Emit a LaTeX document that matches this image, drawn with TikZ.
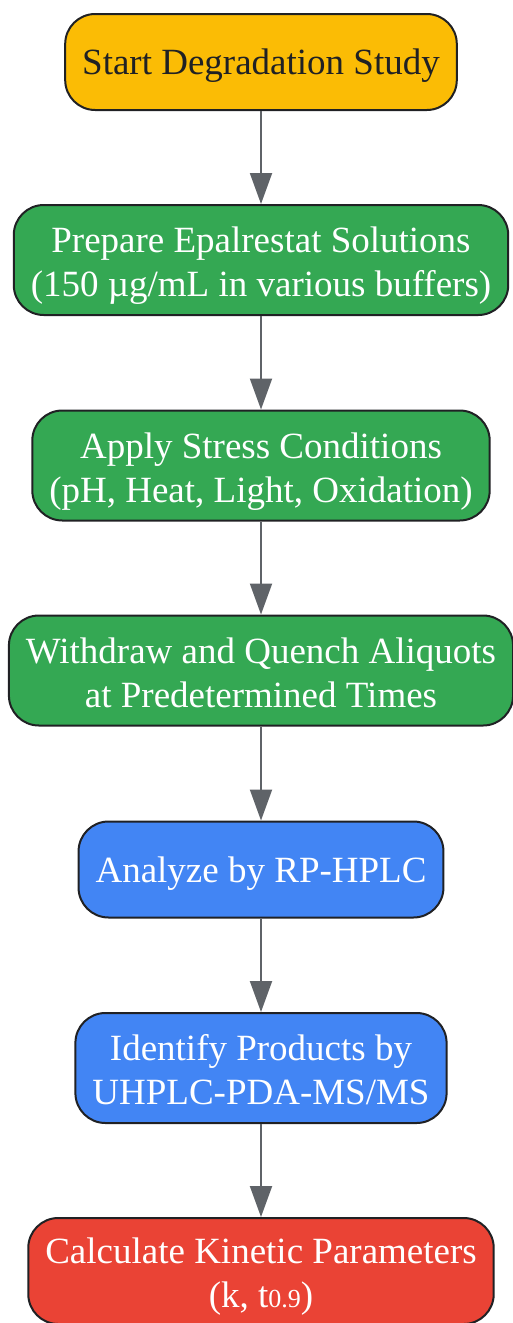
\documentclass[tikz,border=0pt]{standalone}
\usepackage{fontspec}
\setmainfont{Liberation Serif}
\usetikzlibrary{arrows.meta}
\definecolor{startyellow}{HTML}{FBBC05}
\definecolor{stepgreen}{HTML}{34A853}
\definecolor{stepblue}{HTML}{4285F4}
\definecolor{endred}{HTML}{EA4335}
\definecolor{edgegray}{HTML}{5F6368}
\definecolor{inkdark}{HTML}{202124}
% two centred lines with even struts
\newcommand{\twolines}[2]{\rule{0pt}{19pt}#1\\#2\rule[-4.5pt]{0pt}{4.5pt}}
\begin{document}
\begin{tikzpicture}[x=0.5pt,y=-0.5pt,
    box/.style={draw=inkdark,line width=1pt,rounded corners=15pt,align=center,
        font=\fontsize{18.5}{22}\selectfont,text=white,inner xsep=8.5pt,inner ysep=2pt},
    oneline/.style={box,minimum height=48pt,
        execute at begin node={\rule{0pt}{17pt}},
        execute at end node={\rule[-4.5pt]{0pt}{4.5pt}}},
    twoline/.style={box,minimum height=55pt},
    flow/.style={draw=edgegray,line width=1pt,-{Triangle[length=15.5pt,width=11pt]}}]
                \useasboundingbox (0,0) rectangle (513,1323);
                % steps of the study
                \node[oneline,fill=startyellow,text=inkdark] (start) at (261,62) {Start Degradation Study};
                \node[twoline,fill=stepgreen] (prepare) at (261,260) {\twolines{Prepare Epalrestat Solutions}{(150 µg/mL in various buffers)}};
                \node[twoline,fill=stepgreen] (stress) at (261,465.5) {\twolines{Apply Stress Conditions}{(pH, Heat, Light, Oxidation)}};
                \node[twoline,fill=stepgreen] (withdraw) at (261,670.5) {\twolines{Withdraw and Quench Aliquots}{at Predetermined Times}};
                \node[oneline,fill=stepblue] (analyze) at (261,869.5) {Analyze by RP-HPLC};
                \node[twoline,fill=stepblue] (identify) at (261,1068) {\twolines{Identify Products by}{UHPLC-PDA-MS/MS}};
                \node[twoline,fill=endred,minimum height=53pt] (kinetics) at (261,1271) {\twolines{Calculate Kinetic Parameters}{(k, t{\fontsize{13}{15}\selectfont 0.9})}};
                % arrows
                \draw[flow] (start) -- (prepare);
                \draw[flow] (prepare) -- (stress);
                \draw[flow] (stress) -- (withdraw);
                \draw[flow] (withdraw) -- (analyze);
                \draw[flow] (analyze) -- (identify);
                \draw[flow] (identify) -- (kinetics);
\end{tikzpicture}
\end{document}
